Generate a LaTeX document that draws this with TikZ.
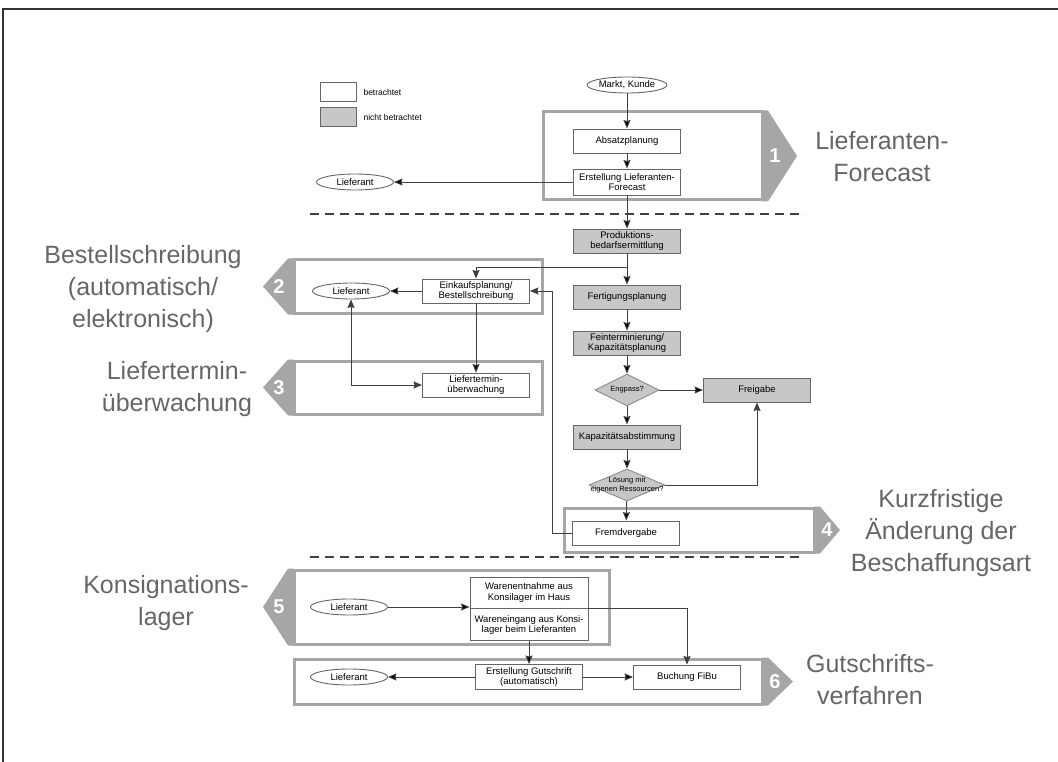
\documentclass[tikz,border=0pt]{standalone}
\usepackage{fontspec}
\setmainfont{Liberation Sans}
\usepackage{tikz}
\usetikzlibrary{arrows.meta,shapes.geometric}

\tikzset{
  plan/.style={rectangle, draw=black!60, fill=white, line width=0.9pt, minimum width=107pt, minimum height=24pt, inner sep=1pt, align=center, font=\fontsize{9.5}{10.5}\selectfont},
  fremd/.style={plan, fill=black!22},
  extern/.style={ellipse, draw=black!60, fill=white, line width=0.9pt, minimum width=77pt, minimum height=16pt, inner sep=0pt, font=\fontsize{9.5}{10.5}\selectfont},
  frage/.style={diamond, draw=black!45, fill=black!22, line width=0.9pt, inner sep=0pt},
  klein/.style={font=\fontsize{7.5}{8.5}\selectfont, align=center, inner sep=0pt},
  gruppe/.style={draw=black!35, line width=3pt},
  marke/.style={fill=black!35},
  nummer/.style={text=white, font=\fontsize{20}{20}\selectfont\bfseries},
  titel/.style={text=black!60, font=\fontsize{25}{32}\selectfont, align=center},
  fluss/.style={->, >={Stealth[length=8.5pt, width=7pt, inset=1pt]}, line width=0.9pt, draw=black!75},
  trenn/.style={dashed, dash pattern=on 9pt off 6pt, line width=1.6pt, draw=black!75}
}

\begin{document}
\begin{tikzpicture}[x=1pt, y=-1pt]
\useasboundingbox (0,0) rectangle (1058,762);
\draw[line width=2.5pt, black!80] (3,762) -- (3,9) -- (1058,9);

% Bereiche
\draw[gruppe] (543,112) rectangle (762,200);
\draw[gruppe] (294,260) rectangle (542,313);
\draw[gruppe] (294,361) rectangle (542,414);
\draw[gruppe] (564,508) rectangle (814,552);
\draw[gruppe] (294,570) rectangle (609,644);
\draw[gruppe] (294,659) rectangle (762,704);
\foreach \xr/\yo/\yu/\xs/\n in {762/112/200/797/1, 814/508/552/840/4, 762/659/704/793/6}{
  \fill[marke] (\xr,\yo-1.5) -- (\xr+6,\yo-1.5) -- (\xs,{(\yo+\yu)/2}) -- (\xr+6,\yu+1.5) -- (\xr,\yu+1.5) -- cycle;
  \node[nummer] at (\xr+13,{(\yo+\yu)/2}) {\n};
}
\foreach \yo/\yu/\n in {260/313/2, 361/414/3, 570/644/5}{
  \fill[marke] (294,\yo-1.5) -- (288,\yo-1.5) -- (263,{(\yo+\yu)/2}) -- (288,\yu+1.5) -- (294,\yu+1.5) -- cycle;
  \node[nummer] at (279,{(\yo+\yu)/2}) {\n};
}

\draw[trenn] (310,214) -- (805,214);
\draw[trenn] (310,557) -- (805,557);

% Legende
\node[plan, minimum width=36pt, minimum height=19pt] (legweiss) at (338,92) {};
\node[fremd, minimum width=36pt, minimum height=19pt] (leggrau) at (338,117) {};
\node[anchor=west, font=\fontsize{8.5}{9}\selectfont] at (360,92) {betrachtet};
\node[anchor=west, font=\fontsize{8.5}{9}\selectfont] at (360,117) {nicht betrachtet};

% Ablauf
\node[extern] (markt) at (627,85) {Markt, Kunde};
\node[plan] (absatz) at (627,141) {Absatzplanung};
\node[plan, minimum height=26pt] (forecast) at (627,182) {Erstellung Lieferanten-\\Forecast};
\node[extern] (lief1) at (355,182) {Lieferant};
\node[fremd] (prodbed) at (627,241) {Produktions-\\bedarfsermittlung};
\node[fremd] (fertig) at (627,297) {Fertigungsplanung};
\node[fremd] (fein) at (627,343) {Feinterminierung/\\Kapazitätsplanung};
\node[frage, minimum width=64pt, minimum height=32pt] (engpass) at (627,390) {};
\node[klein] at (engpass) {Engpass?};
\node[fremd] (freigabe) at (757,390) {Freigabe};
\node[fremd] (kapabst) at (627,437) {Kapazitätsabstimmung};
\node[frage, minimum width=76pt, minimum height=32pt] (loesung) at (627,485) {};
\node[klein] at (loesung) {Lösung mit\\eigenen Ressourcen?};
\node[plan] (fremdv) at (626,533) {Fremdvergabe};

\node[plan] (einkauf) at (476,291) {Einkaufsplanung/\\Bestellschreibung};
\node[extern] (lief2) at (351,291) {Lieferant};
\node[plan] (termin) at (476,385) {Liefertermin-\\überwachung};

\node[extern] (lief3) at (349,607) {Lieferant};
\node[plan, minimum width=118pt, minimum height=31pt] (entnahme) at (529,592.5) {Warenentnahme aus\\Konsilager im Haus};
\node[plan, minimum width=118pt, minimum height=32pt, anchor=north] (eingang) at (entnahme.south) {Wareneingang aus Konsi-\\lager beim Lieferanten};
\node[plan, minimum height=25pt] (gutschrift) at (529,677) {Erstellung Gutschrift\\(automatisch)};
\node[plan] (fibu) at (687,677) {Buchung FiBu};
\node[extern] (lief4) at (349,677) {Lieferant};

% Titel
\node[titel] (t1) at (882,157) {Lieferanten-\\Forecast};
\node[titel] (t2) at (143,289) {Bestellschreibung\\(automatisch/\\elektronisch)};
\node[titel] (t3) at (177,389) {Liefertermin-\\überwachung};
\node[titel] (t4) at (941,533) {Kurzfristige\\Änderung der\\Beschaffungsart};
\node[titel] (t5) at (166,603) {Konsignations-\\lager};
\node[titel] (t6) at (870,680) {Gutschrifts-\\verfahren};

\path[fluss]
  (markt) edge (absatz)
  (absatz) edge (forecast)
  (forecast) edge (prodbed)
  (forecast) edge (lief1)
  (prodbed) edge (fertig)
  (fertig) edge (fein)
  (fein) edge (engpass)
  (engpass) edge (freigabe)
  (engpass) edge (kapabst)
  (kapabst) edge (loesung)
  (loesung) edge (fremdv)
  (einkauf) edge (lief2)
  (einkauf) edge (termin)
  (lief3) edge (lief3 -| entnahme.west)
  (eingang) edge (gutschrift)
  (gutschrift) edge (fibu)
  (gutschrift) edge (lief4);

\draw[fluss] (loesung.east) -| (freigabe.south);
\draw[fluss] (prodbed.south) ++(0,14) -| (einkauf.north);
\draw[fluss] (fremdv.west) -- ++(-20,0) |- (einkauf.east);
\draw[fluss, <->] (lief2.south) |- (termin.west);
\draw[fluss] (entnahme.south east) -| (fibu.north);
\end{tikzpicture}
\end{document}
